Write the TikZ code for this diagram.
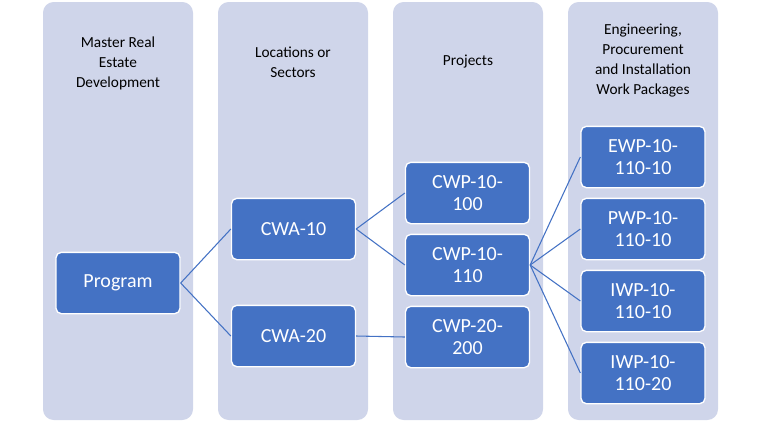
\documentclass[tikz,border=0pt]{standalone}
\usepackage{fontspec}
\setmainfont{Carlito}
\begin{document}
\begin{tikzpicture}[x=0.75pt,y=-0.75pt,
 col/.style={fill={rgb,255:red,207;green,213;blue,234},draw=none,rounded corners=8pt},
 box/.style={fill={rgb,255:red,68;green,114;blue,196},draw=white,line width=1pt,rounded corners=4pt,text=white,font=\fontsize{15}{17}\selectfont,align=center,minimum width=93pt,minimum height=46pt,inner sep=1pt},
 hd/.style={font=\fontsize{11.5}{15}\selectfont,align=center,text=black},
 ln/.style={draw={rgb,255:red,68;green,114;blue,196},line width=0.8pt}]
\useasboundingbox (0,0) rectangle (762,422);
\fill[col] (43,2) rectangle (193,420);
\fill[col] (218,2) rectangle (368,420);
\fill[col] (393,2) rectangle (543,420);
\fill[col] (568,2) rectangle (718,420);
\node[hd] (h1) at (118,63) {Master Real\\Estate\\Development};
\node[hd] (h2) at (293,62) {Locations or\\Sectors};
\node[hd] (h3) at (468,62) {Projects};
\node[hd] (h4) at (643,61) {Engineering,\\Procurement\\and Installation\\Work Packages};
\node[box] (p) at (118,283) {Program};
\node[box] (a1) at (293.5,229) {CWA-10};
\node[box] (a2) at (293.5,336) {CWA-20};
\node[box] (c1) at (467.5,193) {CWP-10-\\100};
\node[box] (c2) at (467.5,265) {CWP-10-\\110};
\node[box] (c3) at (467.5,337) {CWP-20-\\200};
\node[box] (e1) at (643,157) {EWP-10-\\110-10};
\node[box] (e2) at (643,229) {PWP-10-\\110-10};
\node[box] (e3) at (643,301) {IWP-10-\\110-10};
\node[box] (e4) at (643,373) {IWP-10-\\110-20};
\draw[ln] (p.east) -- (a1.west);
\draw[ln] (p.east) -- (a2.west);
\draw[ln] (a1.east) -- (c1.west);
\draw[ln] (a1.east) -- (c2.west);
\draw[ln] (a2.east) -- (c3.west);
\foreach \e in {e1,e2,e3,e4} \draw[ln] (c2.east) -- (\e.west);
\end{tikzpicture}
\end{document}
